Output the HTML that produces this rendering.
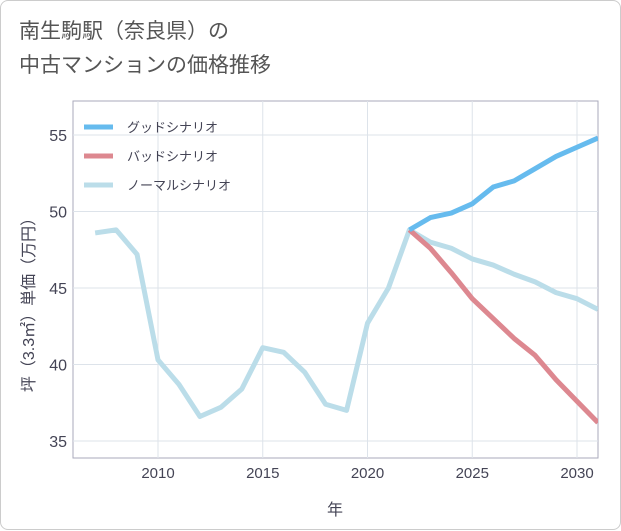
<!DOCTYPE html>
<html><head><meta charset="utf-8">
<style>
body{margin:0;background:#fff;font-family:"Liberation Sans","Noto Sans CJK JP",sans-serif;}
#card{position:absolute;left:0;top:0;width:619px;height:528px;border:1px solid #ccc;border-radius:8px;background:#fff;}
#title{position:absolute;left:18px;top:14px;font-size:21px;line-height:34px;color:#555;}
</style></head><body>
<div id="card">
<div id="title">南生駒駅（奈良県）の<br>中古マンションの価格推移</div>
<svg id="svg" width="621" height="530" style="position:absolute;left:0;top:0"></svg>
</div>
<script>
const years=[2007,2008,2009,2010,2011,2012,2013,2014,2015,2016,2017,2018,2019,2020,2021,2022,2023,2024,2025,2026,2027,2028,2029,2030,2031];
const normalVals=[48.6,48.8,47.2,40.3,38.7,36.6,37.2,38.4,41.1,40.8,39.5,37.4,37.0,42.7,45.0,48.8,48.0,47.6,46.9,46.5,45.9,45.4,44.7,44.3,43.6];
const forecastYears=[2022,2023,2024,2025,2026,2027,2028,2029,2030,2031];
const goodVals=[48.8,49.6,49.9,50.5,51.6,52.0,52.8,53.6,54.2,54.8];
const badVals=[48.8,47.6,46.0,44.3,43.0,41.7,40.6,39.0,37.6,36.2];
const xTicks=[2010,2015,2020,2025,2030];
const yTicks=[35,40,45,50,55];
const legendLabels=["グッドシナリオ","バッドシナリオ","ノーマルシナリオ"];
const legendColors=["#66bbee","#dd8890","#bbdde9"];

const L=72,R=597,T=100,B=457;
const X=y=>157+(y-2010)*20.95;
const Y=v=>440-(v-35)*15.3;
const svg=document.getElementById('svg');
const NS='http://www.w3.org/2000/svg';
function mk(t,a,p){const e=document.createElementNS(NS,t);for(const k in a)e.setAttribute(k,a[k]);(p||svg).appendChild(e);return e;}
const bg=mk('rect',{x:L,y:T,width:R-L,height:B-T,fill:'#fff',stroke:'#aab',"stroke-width":1});


xTicks.forEach(t=>{
 const g=mk('line',{x1:X(t),x2:X(t),y1:T,y2:B,stroke:'#dde3ea'});
 
 
 const tx=mk('text',{x:X(t),y:477,"text-anchor":"middle","font-size":15,fill:'#445'});
 tx.textContent=t;
 
 
});
yTicks.forEach(t=>{
 const g=mk('line',{x1:L,x2:R,y1:Y(t),y2:Y(t),stroke:'#dde3ea'});
 
 
 const tx=mk('text',{x:66,y:Y(t)+6,"text-anchor":"end","font-size":16,fill:'#445'});
 tx.textContent=t;
 
 
});
const cp=mk('clipPath',{id:'cp'});mk('rect',{x:L,y:T,width:R-L,height:B-T},cp);
function line(xs,vs,c,name){
 const p=mk('polyline',{points:xs.map((y,i)=>X(y)+','+Y(vs[i])).join(' '),fill:'none',stroke:c,"stroke-width":5,"stroke-linejoin":"round","clip-path":"url(#cp)"});
 
 
}
line(years,normalVals,legendColors[2],'normal-scenario-line');
line(forecastYears,badVals,legendColors[1],'bad-scenario-line');
line(forecastYears,goodVals,legendColors[0],'good-scenario-line');
legendLabels.forEach((l,i)=>{
 const y=126+i*29;
 const s=mk('line',{x1:83,x2:112,y1:y,y2:y,stroke:legendColors[i],"stroke-width":5});
 
 
 const t=mk('text',{x:126,y:y+5,"font-size":13,fill:'#445'});
 t.textContent=l;
 
 
});
const xt=mk('text',{x:334,y:514,"text-anchor":"middle","font-size":16,fill:'#445'});
xt.textContent='年';


const yt=mk('text',{x:0,y:0,"text-anchor":"middle","font-size":16,fill:'#445',transform:'translate(33,300) rotate(-90)'});
yt.textContent='坪（3.3㎡）単価（万円）';


</script>
</body></html>
